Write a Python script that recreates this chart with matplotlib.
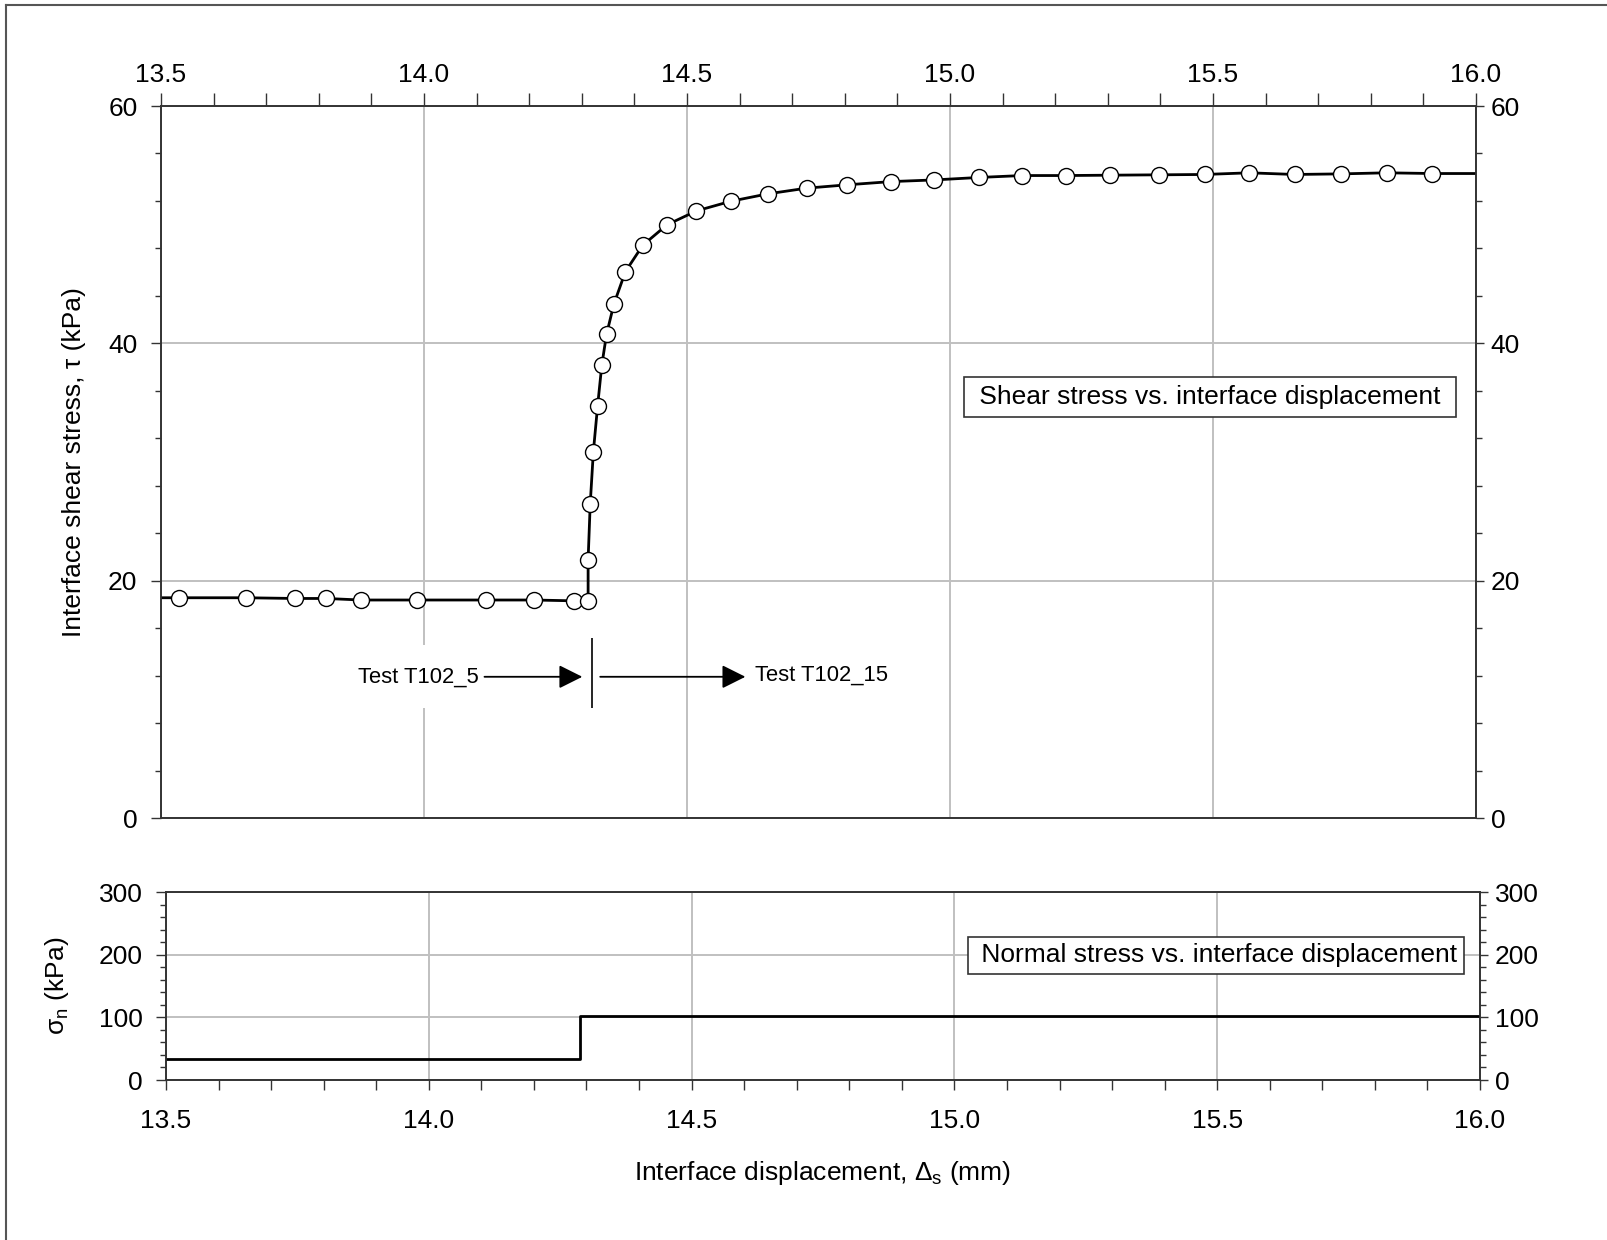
import numpy as np
import matplotlib
matplotlib.use('Agg')
import matplotlib.pyplot as plt
from matplotlib.ticker import MultipleLocator, FormatStrFormatter
from matplotlib.lines import Line2D

plt.rcParams['font.family'] = ['Liberation Sans', 'DejaVu Sans']
plt.rcParams['mathtext.fontset'] = 'custom'
plt.rcParams['mathtext.rm'] = 'Liberation Sans'
plt.rcParams['mathtext.it'] = 'Liberation Sans:italic'

# interface displacement (mm) and shear stress (kPa), tests T102_5 then T102_15
disp = [13.5, 13.534, 13.661, 13.754, 13.814, 13.880, 13.986, 14.117, 14.209,
        14.286, 14.312, 14.312, 14.316, 14.322, 14.330, 14.338, 14.347, 14.361,
        14.383, 14.416, 14.462, 14.518, 14.583, 14.654, 14.728, 14.805, 14.888,
        14.970, 15.056, 15.137, 15.221, 15.305, 15.397, 15.484, 15.569, 15.655,
        15.744, 15.830, 15.917, 16.0]
tau = [18.56, 18.56, 18.56, 18.50, 18.50, 18.37, 18.37, 18.37, 18.37,
       18.30, 18.30, 21.77, 26.46, 30.88, 34.70, 38.16, 40.75, 43.31,
       46.05, 48.27, 49.99, 51.16, 51.97, 52.60, 53.08, 53.36, 53.63,
       53.77, 53.98, 54.14, 54.14, 54.17, 54.20, 54.23, 54.37, 54.23,
       54.28, 54.37, 54.31, 54.31]

# normal stress history (kPa), step at the change of test
sn_disp = [13.5, 14.288, 16.0]
sn = [33, 102, 102]

test_switch = 14.32

FS = 19
FS_NOTE = 15.8
GRID = '#c0c0c0'
SPINE = '#333333'

fig = plt.figure(figsize=(16.08, 12.40), dpi=100)
W, H = 1608.0, 1240.0


def style_y(ax, axr, major, minor):
    # left axis ticks plus a mirrored right axis with its own labels
    for a in (ax, axr):
        a.yaxis.set_major_locator(MultipleLocator(major))
        a.yaxis.set_minor_locator(MultipleLocator(minor))
    ax.tick_params(axis='y', which='major', direction='out', length=7, width=1.0,
                   labelsize=FS, pad=10, color=SPINE)
    ax.tick_params(axis='y', which='minor', direction='out', length=4, width=1.0,
                   color=SPINE)
    axr.tick_params(axis='y', which='major', direction='out', length=6, width=1.0,
                    labelsize=FS, pad=4.5, color=SPINE)
    axr.tick_params(axis='y', which='minor', direction='out', length=4, width=1.0,
                    color=SPINE)
    for a in (ax, axr):
        for s in a.spines.values():
            s.set_color(SPINE)
            s.set_linewidth(1.2)


# ---- shear stress panel ----
ax1 = fig.add_axes([161 / W, 1 - 818 / H, 1315 / W, 712 / H])
ax1.set_axisbelow(True)
ax1.plot(disp, tau, color='black', lw=2.0, marker='o', ms=11.5,
         mfc='white', mec='black', mew=1.0, markevery=slice(1, -1), zorder=5)
ax1.set_xlim(13.5, 16.0)
ax1.set_ylim(0, 60)
ax1.xaxis.set_major_locator(MultipleLocator(0.5))
ax1.xaxis.set_minor_locator(MultipleLocator(0.1))
ax1.xaxis.set_major_formatter(FormatStrFormatter('%.1f'))
ax1.tick_params(axis='x', which='both', direction='out', length=9.5, width=1.0,
                top=True, bottom=False, labeltop=True, labelbottom=False,
                labelsize=FS, pad=4, color=SPINE)
ax1.grid(True, color=GRID, lw=1.4)
ax1.grid(False, which='minor')

ax1r = ax1.twinx()
ax1r.set_ylim(0, 60)
style_y(ax1, ax1r, 20, 4)

ax1.set_ylabel('Interface shear stress, τ (kPa)', fontsize=FS)
ax1.yaxis.set_label_coords(-0.057, 0.5)

ax1.text(0.7977, 0.591, ' Shear stress vs. interface displacement ',
         transform=ax1.transAxes, ha='center', va='center', fontsize=FS,
         bbox=dict(boxstyle='square,pad=0.3', fc='white', ec=SPINE, lw=1.2))

# test change annotation
ax1.text(14.105, 11.9, 'Test T102_5', ha='right', va='center', fontsize=FS_NOTE,
         zorder=2, bbox=dict(fc='white', ec='none', pad=15))
ax1.annotate('', xy=(14.301, 11.9), xytext=(14.115, 11.9), zorder=4,
             arrowprops=dict(arrowstyle='-|>', color='black', lw=1.3,
                             mutation_scale=36, shrinkA=0, shrinkB=0))
ax1.vlines(test_switch, 9.3, 15.2, color='black', lw=1.2, zorder=4)
ax1.annotate('', xy=(14.611, 11.9), xytext=(14.335, 11.9), zorder=4,
             arrowprops=dict(arrowstyle='-|>', color='black', lw=1.3,
                             mutation_scale=36, shrinkA=0, shrinkB=0))
ax1.text(14.629, 12.05, 'Test T102_15', ha='left', va='center', fontsize=FS_NOTE,
         zorder=4)

# ---- normal stress panel ----
ax2 = fig.add_axes([166 / W, 1 - 1080 / H, 1314 / W, 188 / H])
ax2.set_axisbelow(True)
ax2.step(sn_disp, sn, where='post', color='black', lw=2.0, zorder=5)
ax2.set_xlim(13.5, 16.0)
ax2.set_ylim(0, 300)
ax2.xaxis.set_major_locator(MultipleLocator(0.5))
ax2.xaxis.set_minor_locator(MultipleLocator(0.1))
ax2.xaxis.set_major_formatter(FormatStrFormatter('%.1f'))
ax2.tick_params(axis='x', which='both', direction='out', length=7, width=1.0,
                labelsize=FS, pad=14, color=SPINE)
ax2.grid(True, color=GRID, lw=1.4)
ax2.grid(False, which='minor')

ax2r = ax2.twinx()
ax2r.set_ylim(0, 300)
style_y(ax2, ax2r, 100, 20)

ax2.set_ylabel('σ$_\\mathrm{n}$ (kPa)', fontsize=FS)
ax2.yaxis.set_label_coords(-0.072, 0.5)
ax2.set_xlabel('Interface displacement, Δ$_\\mathrm{s}$ (mm)', fontsize=FS)
ax2.xaxis.set_label_coords(0.5, -0.42)

ax2.text(0.799, 0.663, ' Normal stress vs. interface displacement',
         transform=ax2.transAxes, ha='center', va='center', fontsize=FS,
         bbox=dict(boxstyle='square,pad=0.25', fc='white', ec=SPINE, lw=1.2))

# frame lines along the left and top edges of the figure
fig.add_artist(Line2D([6 / W, 6 / W], [0, 1 - 5 / H], color='#555555', lw=1.5))
fig.add_artist(Line2D([6 / W, 1], [1 - 5 / H, 1 - 5 / H], color='#555555', lw=1.5))

fig.savefig('out.png', dpi=100)
